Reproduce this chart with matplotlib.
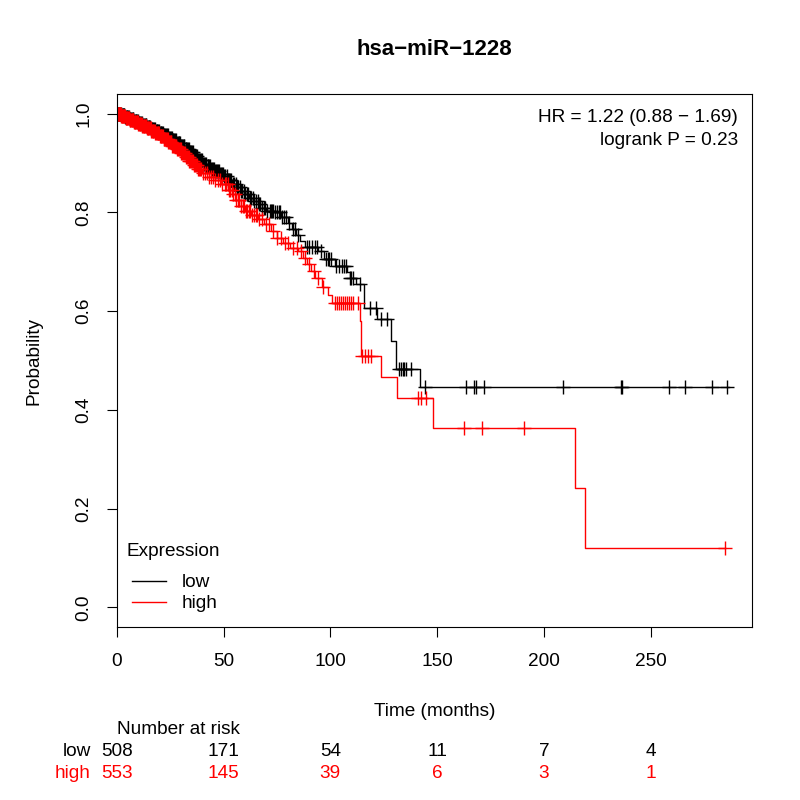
import matplotlib
matplotlib.use("Agg")
import matplotlib.pyplot as plt
import numpy as np

plt.rcParams['font.family'] = ['Liberation Sans', 'DejaVu Sans']

TITLE = "hsa\u2212miR\u22121228"
FS = 13.7

# Kaplan-Meier steps (time in months, survival after step)
low_times = [0, 2, 4, 6, 8, 10, 12, 14, 16, 18, 20, 22, 24, 26, 28, 30, 32, 34, 36, 38,
             40, 42, 44, 46, 48, 50, 52, 54, 56, 58, 60, 62, 64, 66, 68, 70, 74, 77, 80,
             82, 84, 86, 88, 94, 97, 102, 108, 109, 112, 115.7, 122, 128.6, 130.6, 141.9]
low_surv = [1.0, 0.997, 0.993, 0.990, 0.986, 0.982, 0.978, 0.974, 0.970, 0.966, 0.961,
            0.956, 0.951, 0.946, 0.941, 0.935, 0.929, 0.922, 0.915, 0.907, 0.899, 0.894,
            0.889, 0.884, 0.878, 0.873, 0.866, 0.858, 0.851, 0.844, 0.837, 0.830, 0.824,
            0.817, 0.810, 0.803, 0.800, 0.790, 0.778, 0.766, 0.754, 0.742, 0.730, 0.722,
            0.705, 0.692, 0.680, 0.668, 0.655, 0.607, 0.584, 0.540, 0.482, 0.447]
low_end = 286.5

high_times = [0, 2, 4, 6, 8, 10, 12, 14, 16, 18, 20, 22, 24, 26, 28, 30, 32, 34, 36, 38,
              40, 43, 46, 49, 52, 54, 56, 58, 60, 63, 66, 69, 72, 75, 78, 81, 85, 87, 89,
              91, 93, 96, 99, 101, 113.8, 114.6, 123.9, 131.2, 148, 214.4, 219.1]
high_surv = [1.0, 0.996, 0.992, 0.988, 0.984, 0.980, 0.976, 0.972, 0.966, 0.960, 0.954,
             0.948, 0.942, 0.935, 0.928, 0.920, 0.912, 0.904, 0.896, 0.888, 0.880, 0.872,
             0.865, 0.857, 0.845, 0.837, 0.826, 0.814, 0.803, 0.795, 0.786, 0.777, 0.762,
             0.749, 0.738, 0.729, 0.722, 0.708, 0.695, 0.682, 0.668, 0.650, 0.632, 0.617,
             0.581, 0.509, 0.467, 0.425, 0.364, 0.242, 0.120]
high_end = 285.0

# censored observations
low_cens = [0.3, 0.6, 0.8, 1.2, 1.5, 1.9, 2.2, 2.5, 2.8, 3.1, 3.4, 3.6, 4.0, 4.4, 4.7, 5.0,
            5.4, 5.7, 6.0, 6.3, 6.7, 7.1, 7.4, 7.8, 8.1, 8.4, 8.8, 9.2, 9.5, 9.9, 10.2,
            10.6, 11.0, 11.3, 11.7, 12.0, 12.4, 12.8, 13.1, 13.5, 13.8, 14.1, 14.5, 14.9,
            15.3, 15.6, 16.0, 16.4, 16.7, 17.0, 17.5, 17.9, 18.3, 18.6, 19.0, 19.3, 19.7,
            20.1, 20.5, 20.8, 21.2, 21.6, 22.0, 22.3, 22.7, 23.0, 23.5, 23.9, 24.2, 24.6,
            25.0, 25.4, 25.8, 26.1, 26.5, 27.0, 27.4, 27.8, 28.1, 28.5, 28.9, 29.3, 29.7,
            30.2, 30.6, 31.0, 31.4, 31.7, 32.2, 32.6, 33.0, 33.4, 33.9, 34.3, 34.7, 35.1,
            35.6, 36.0, 36.4, 36.8, 37.3, 37.7, 38.1, 38.5, 39.0, 39.4, 39.8, 40.3, 40.7,
            41.1, 41.6, 42.0, 42.5, 42.9, 43.3, 43.8, 44.2, 44.6, 45.1, 45.5, 46.0, 46.4,
            46.9, 47.3, 47.8, 48.2, 48.7, 49.1, 49.6,
            50.2, 50.8, 51.4, 52.0, 52.5, 53.1, 53.7, 54.3, 55.0, 55.6, 56.3, 56.9, 57.5,
            58.2, 58.8, 59.4, 60.1, 60.8, 61.5, 62.2, 63.0, 63.7, 64.4, 65.1, 65.9, 66.6,
            67.3, 68.0, 68.8, 69.6, 70.4, 71.6, 72.1, 72.7, 73.3, 74.0, 75.2, 75.9, 76.5,
            77.3, 78.1, 79.4, 80.7, 82.3, 83.6, 85.0, 88.9, 90.2, 91.5, 92.8, 93.8, 95.6,
            98.2, 98.9, 99.6, 100.3,
            102.8, 104.0, 105.3, 106.6, 107.5, 109.1, 109.7, 110.4, 113.8, 118.4, 121.3,
            123.9, 126.6, 132.3, 133.1, 133.9, 134.7, 135.6, 137.6, 144.2,
            163.7, 167.2, 168.0, 171.8, 209.0, 236.0, 236.6, 258.4, 266.0, 278.9, 286.0]
high_cens = [0.2, 0.4, 0.6, 0.9, 1.1, 1.3, 1.5, 1.8, 2.1, 2.3, 2.6, 2.8, 3.0, 3.3, 3.5, 3.8,
             4.1, 4.3, 4.6, 4.9, 5.2, 5.5, 5.8, 6.1, 6.4, 6.7, 6.9, 7.2, 7.5, 7.8, 8.1, 8.4,
             8.7, 9.0, 9.3, 9.6, 9.8, 10.1, 10.4, 10.7, 11.0, 11.3, 11.6, 12.0, 12.3, 12.6,
             12.9, 13.2, 13.5, 13.9, 14.2, 14.5, 14.8, 15.2, 15.5, 15.8, 16.1, 16.5, 16.8,
             17.1, 17.4, 17.8, 18.1, 18.5, 18.8, 19.2, 19.5, 19.9, 20.2, 20.6, 20.9, 21.3,
             21.6, 22.0, 22.3, 22.7, 23.0, 23.4, 23.8, 24.2, 24.5, 24.9, 25.2, 25.6, 26.0,
             26.4, 26.7, 27.1, 27.5, 27.9, 28.3, 28.7, 29.1, 29.5, 29.9, 30.3, 30.7, 31.1,
             31.5, 31.9, 32.3, 32.8, 33.2, 33.6, 34.0, 34.5, 34.9, 35.4, 35.8, 36.2, 36.6,
             37.1, 37.5, 38.0, 38.4, 38.9, 39.3, 40.2, 41.2, 42.1, 43.1, 44.0, 45.0, 46.1,
             47.2, 48.3, 49.4,
             50.6, 51.2, 51.9, 52.5, 53.2, 53.9, 54.6, 55.3, 56.0, 56.7, 57.4, 58.1, 58.9,
             59.6, 60.3, 61.0, 61.8, 62.6, 63.4, 64.2, 65.0, 65.8, 66.6, 68.2, 69.9, 71.5,
             73.2, 75.0, 76.8, 78.6, 80.4, 82.3, 84.2, 86.1, 88.1, 90.1, 92.2, 94.4, 96.7,
             102.0, 103.3, 104.2, 105.1, 106.0, 107.0, 107.9, 108.8, 109.7, 110.5, 112.9,
             115.0, 116.1, 117.7, 119.2, 141.0, 142.6, 144.6,
             162.6, 171.2, 190.7, 285.0]

risk_times = [0, 50, 100, 150, 200, 250]
risk_low = [508, 171, 54, 11, 7, 4]
risk_high = [553, 145, 39, 6, 3, 1]

hr_lines = ["HR = 1.22 (0.88 \u2212 1.69)", "logrank P = 0.23"]


def surv_at(times, surv, t):
    idx = np.searchsorted(times, t, side='right') - 1
    return np.asarray(surv)[idx]


def main():
    fig = plt.figure(figsize=(8, 8), dpi=100)
    ax = fig.add_axes([0.146, 0.216, 0.794, 0.6665])

    groups = [("low", low_times, low_surv, low_end, low_cens, "black"),
              ("high", high_times, high_surv, high_end, high_cens, "red")]
    for name, t, s, end, cens, col in groups:
        tt = list(t) + [end]
        ss = list(s) + [s[-1]]
        ax.step(tt, ss, where='post', color=col, lw=1.0, label=name)
        cy = surv_at(t, s, cens)
        ax.plot(cens, cy, ls='none', marker='+', ms=9.5, mew=1.0, color=col)

    ax.set_xlim(0, 297.5)
    ax.set_ylim(-0.04, 1.04)
    ax.set_xticks([0, 50, 100, 150, 200, 250])
    ax.set_yticks([0.0, 0.2, 0.4, 0.6, 0.8, 1.0])
    ax.set_yticklabels(["0.0", "0.2", "0.4", "0.6", "0.8", "1.0"], rotation=90, va='center')
    ax.tick_params(length=7, width=0.8, labelsize=FS)
    ax.tick_params(axis='x', pad=11.5)
    ax.tick_params(axis='y', pad=10.5)
    for sp in ax.spines.values():
        sp.set_linewidth(0.8)

    ax.set_xlabel("Time (months)", fontsize=FS, labelpad=24)
    ax.set_ylabel("Probability", fontsize=FS, labelpad=24)
    ax.set_title(TITLE, fontsize=16, fontweight='bold', pad=28)

    ax.text(0.978, 0.955, hr_lines[0], transform=ax.transAxes, ha='right', va='center',
            fontsize=FS)
    ax.text(0.978, 0.912, hr_lines[1], transform=ax.transAxes, ha='right', va='center',
            fontsize=FS)

    ax.text(0.0157, 0.1426, "Expression", transform=ax.transAxes, ha='left', va='center',
            fontsize=FS)
    leg = ax.legend(loc='lower left', bbox_to_anchor=(0.0, 0.0), frameon=False,
                    fontsize=FS, handlelength=1.8, handletextpad=0.85, labelspacing=0.2,
                    borderaxespad=0.38)
    for line in leg.get_lines():
        line.set_linewidth(1.0)

    # number at risk table
    fig.text(117 / 800, 1 - 730 / 800, "Number at risk", ha='left', va='center', fontsize=FS)
    for label, vals, col, ypix in [("low", risk_low, "black", 752),
                                   ("high", risk_high, "red", 774)]:
        fig.text(91 / 800, 1 - ypix / 800, label, ha='right', va='center',
                 fontsize=FS, color=col)
        for t, v in zip(risk_times, vals):
            xf = ax.transData.transform((t, 0))[0]
            xf = fig.transFigure.inverted().transform((xf, 0))[0]
            fig.text(xf, 1 - ypix / 800, str(v), ha='center', va='center',
                     fontsize=FS, color=col)

    fig.savefig("out.png", dpi=100)


main()
